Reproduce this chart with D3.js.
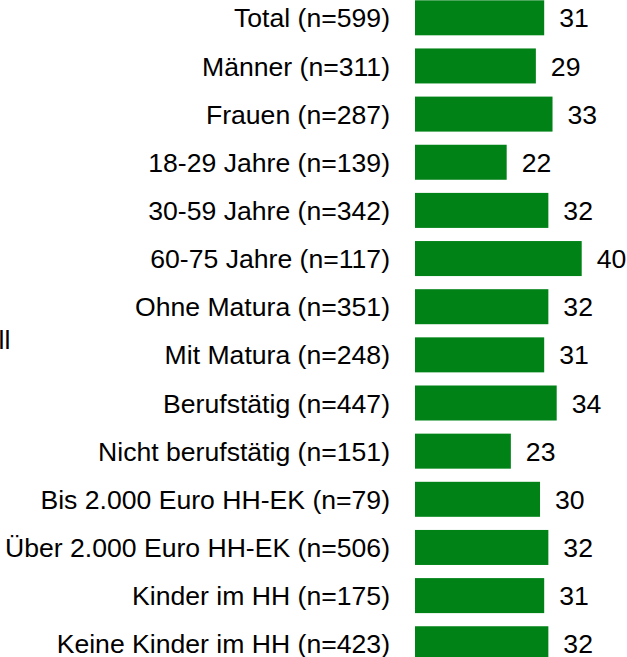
<!DOCTYPE html>
<meta charset="utf-8">
<style>
body { margin: 0; background: #fff; }
text { font-family: "Liberation Sans", Arial, sans-serif; fill: #000; }
.bar { fill: #008216; }
</style>
<body>
<script src="https://d3js.org/d3.v7.min.js"></script>
<script>
// chart data
var categories = ["Total (n=599)", "Männer (n=311)", "Frauen (n=287)", "18-29 Jahre (n=139)",
  "30-59 Jahre (n=342)", "60-75 Jahre (n=117)", "Ohne Matura (n=351)", "Mit Matura (n=248)",
  "Berufstätig (n=447)", "Nicht berufstätig (n=151)", "Bis 2.000 Euro HH-EK (n=79)",
  "Über 2.000 Euro HH-EK (n=506)", "Kinder im HH (n=175)", "Keine Kinder im HH (n=423)"];
var values = [31, 29, 33, 22, 32, 40, 32, 31, 34, 23, 30, 32, 31, 32];

var width = 627, height = 657;
var barLeft = 415;
var step = 48.15, pad = 0.273;

var svg = d3.select("body").append("svg")
    .attr("width", width)
    .attr("height", height);

// scales
var x = d3.scaleLinear().domain([0, 40]).range([0, 166.7]);
var y = d3.scaleBand().domain(categories)
    .range([0.3, 0.3 + step * (categories.length - pad)])
    .paddingInner(pad).paddingOuter(0);

var g = svg.append("g").attr("transform", "translate(" + barLeft + ",0)");

// bars
g.selectAll(".bar")
    .data(values)
  .enter().append("rect")
    .attr("class", "bar")
    .attr("x", 0)
    .attr("y", function(d, i) { return y(categories[i]); })
    .attr("width", function(d) { return x(d); })
    .attr("height", y.bandwidth());

// value labels
g.selectAll(".val")
    .data(values)
  .enter().append("text")
    .attr("class", "val")
    .attr("x", function(d) { return x(d) + 15; })
    .attr("y", function(d, i) { return y(categories[i]) + y.bandwidth() / 2; })
    .attr("dy", "0.36em")
    .style("font-size", "26.6px")
    .text(function(d) { return d; });

// category labels
svg.selectAll(".cat")
    .data(categories)
  .enter().append("text")
    .attr("class", "cat")
    .attr("x", 390)
    .attr("y", function(d) { return y(d) + y.bandwidth() / 2; })
    .attr("dy", "0.36em")
    .attr("text-anchor", "end")
    .style("font-size", "26.6px")
    .text(function(d) { return d; });

// clipped text fragment at the left edge
svg.append("text")
    .attr("x", -1.5)
    .attr("y", 349)
    .style("font-size", "26.6px")
    .text("ll");
</script>
</body>
